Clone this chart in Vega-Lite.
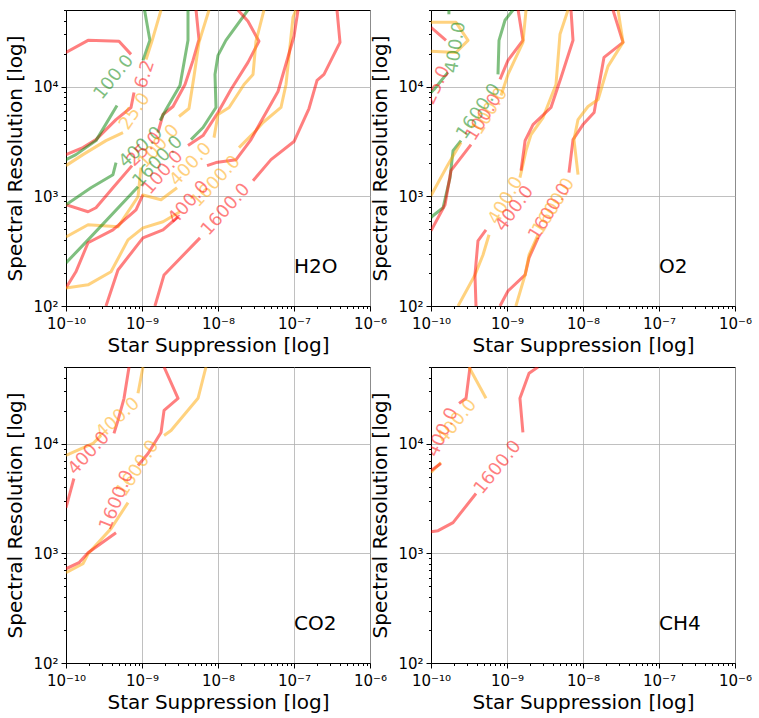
{
  "$schema": "https://vega.github.io/schema/vega-lite/v6.json",
  "background": "white",
  "padding": {"left": 5, "top": 2, "right": 5, "bottom": 5},
  "config": {
    "font": "DejaVu Sans",
    "view": {"stroke": "black", "strokeWidth": 1},
    "axis": {"labelFont": "DejaVu Sans", "labelFontSize": 15, "labelColor": "black", "titleFont": "DejaVu Sans", "titleFontSize": 20, "titleFontWeight": "normal", "titleColor": "black", "tickColor": "black", "tickWidth": 1, "domainColor": "black", "gridColor": "#b0b0b0", "gridWidth": 0.8, "labelFlush": false, "labelOverlap": false, "labelPadding": 3, "grid": true},
    "axisX": {"titlePadding": 4, "labelPadding": 5},
    "axisY": {"titlePadding": 7}
  },
  "datasets": {
    "h2o_lines": [
      {"id":"r6a","c":"red","x":1e-10,"y":20500},{"id":"r6a","c":"red","x":1.95e-10,"y":26450},{"id":"r6a","c":"red","x":4.98e-10,"y":25900},{"id":"r6a","c":"red","x":7.17e-10,"y":19700},
      {"id":"r6b","c":"red","x":7.85e-10,"y":8850},{"id":"r6b","c":"red","x":7.17e-10,"y":6460},{"id":"r6b","c":"red","x":4.55e-10,"y":5010},{"id":"r6b","c":"red","x":2.48e-10,"y":3290},{"id":"r6b","c":"red","x":1.67e-10,"y":2780},{"id":"r6b","c":"red","x":1e-10,"y":2400},
      {"id":"g100a","c":"green","x":1.08e-9,"y":50000},{"id":"g100a","c":"green","x":1.27e-9,"y":26450},{"id":"g100a","c":"green","x":1.03e-9,"y":17360},
      {"id":"g100b","c":"green","x":4.69e-10,"y":6730},{"id":"g100b","c":"green","x":2.48e-10,"y":3220},{"id":"g100b","c":"green","x":1.35e-10,"y":2400},{"id":"g100b","c":"green","x":1e-10,"y":2160},
      {"id":"o25a","c":"orange","x":1.78e-9,"y":50000},{"id":"o25a","c":"orange","x":1.35e-9,"y":25900},{"id":"o25a","c":"orange","x":1.13e-9,"y":17700},
      {"id":"o25b","c":"orange","x":5.62e-10,"y":3810},{"id":"o25b","c":"orange","x":3.36e-10,"y":3220},{"id":"o25b","c":"orange","x":1.67e-10,"y":2400},{"id":"o25b","c":"orange","x":1e-10,"y":1905},
      {"id":"r25a","c":"red","x":1e-10,"y":838},{"id":"r25a","c":"red","x":1.95e-10,"y":723},{"id":"r25a","c":"red","x":2.48e-10,"y":787},{"id":"r25a","c":"red","x":4.15e-10,"y":1198},{"id":"r25a","c":"red","x":7.39e-10,"y":1905},
      {"id":"r25b","c":"red","x":1.62e-9,"y":3810},{"id":"r25b","c":"red","x":1.89e-9,"y":5570},{"id":"r25b","c":"red","x":2.56e-9,"y":6590},{"id":"r25b","c":"red","x":3.68e-9,"y":10470},{"id":"r25b","c":"red","x":4.69e-9,"y":17360},{"id":"r25b","c":"red","x":5.62e-9,"y":27000},{"id":"r25b","c":"red","x":5.14e-9,"y":50000},
      {"id":"g400a","c":"green","x":1e-10,"y":838},{"id":"g400a","c":"green","x":2.13e-10,"y":1198},{"id":"g400a","c":"green","x":4.15e-10,"y":1575},{"id":"g400a","c":"green","x":4.55e-10,"y":2030},
      {"id":"g400b","c":"green","x":1.73e-9,"y":4910},{"id":"g400b","c":"green","x":2.07e-9,"y":6190},{"id":"g400b","c":"green","x":3.16e-9,"y":10260},{"id":"g400b","c":"green","x":4.03e-9,"y":26450},{"id":"g400b","c":"green","x":4.03e-9,"y":50000},
      {"id":"o100a","c":"orange","x":1e-10,"y":427},{"id":"o100a","c":"orange","x":1.95e-10,"y":550},{"id":"o100a","c":"orange","x":4.83e-10,"y":527},{"id":"o100a","c":"orange","x":8.86e-10,"y":992},{"id":"o100a","c":"orange","x":9.7e-10,"y":1826},
      {"id":"o100b","c":"orange","x":3.07e-9,"y":5340},{"id":"o100b","c":"orange","x":4.15e-9,"y":6320},{"id":"o100b","c":"orange","x":4.83e-9,"y":12400},{"id":"o100b","c":"orange","x":5.62e-9,"y":25350},{"id":"o100b","c":"orange","x":7.61e-9,"y":50000},
      {"id":"g1600a","c":"green","x":1e-10,"y":247},{"id":"g1600a","c":"green","x":1.95e-10,"y":401},{"id":"g1600a","c":"green","x":8.86e-10,"y":1224},
      {"id":"g1600b","c":"green","x":4.41e-9,"y":3290},{"id":"g1600b","c":"green","x":6.35e-9,"y":4240},{"id":"g1600b","c":"green","x":9.41e-9,"y":6460},{"id":"g1600b","c":"green","x":9.13e-9,"y":12930},{"id":"g1600b","c":"green","x":1e-8,"y":19300},{"id":"g1600b","c":"green","x":1.27e-8,"y":26450},{"id":"g1600b","c":"green","x":2.48e-8,"y":50000},
      {"id":"r100a","c":"red","x":1e-10,"y":146},{"id":"r100a","c":"red","x":1.35e-10,"y":205},{"id":"r100a","c":"red","x":1.95e-10,"y":377},{"id":"r100a","c":"red","x":4.15e-10,"y":495},{"id":"r100a","c":"red","x":8.34e-10,"y":754},{"id":"r100a","c":"red","x":1.03e-9,"y":1034},
      {"id":"r100b","c":"red","x":4.03e-9,"y":2900},{"id":"r100b","c":"red","x":6.35e-9,"y":3580},{"id":"r100b","c":"red","x":1e-8,"y":5810},{"id":"r100b","c":"red","x":1.48e-8,"y":9430},{"id":"r100b","c":"red","x":2.48e-8,"y":16640},{"id":"r100b","c":"red","x":3.46e-8,"y":25900},{"id":"r100b","c":"red","x":2.48e-8,"y":39450},{"id":"r100b","c":"red","x":1.83e-8,"y":50000},
      {"id":"o1600a","c":"orange","x":1e-10,"y":146},{"id":"o1600a","c":"orange","x":1.95e-10,"y":156},{"id":"o1600a","c":"orange","x":3.91e-10,"y":205},{"id":"o1600a","c":"orange","x":6.54e-10,"y":401},{"id":"o1600a","c":"orange","x":1.03e-9,"y":516},{"id":"o1600a","c":"orange","x":1.89e-9,"y":586},{"id":"o1600a","c":"orange","x":3.16e-9,"y":723},
      {"id":"o1600b","c":"orange","x":1.89e-8,"y":2780},{"id":"o1600b","c":"orange","x":3.16e-8,"y":3980},{"id":"o1600b","c":"orange","x":3.91e-8,"y":4710},{"id":"o1600b","c":"orange","x":6.74e-8,"y":6460},{"id":"o1600b","c":"orange","x":7.85e-8,"y":10470},{"id":"o1600b","c":"orange","x":9.7e-8,"y":42900},{"id":"o1600b","c":"orange","x":1.06e-7,"y":50000},
      {"id":"o400a","c":"orange","x":1e-9,"y":1034},{"id":"o400a","c":"orange","x":1.78e-9,"y":931},{"id":"o400a","c":"orange","x":2.89e-9,"y":1198},
      {"id":"o400b","c":"orange","x":8.86e-9,"y":3430},{"id":"o400b","c":"orange","x":1e-8,"y":5570},{"id":"o400b","c":"orange","x":1.4e-8,"y":6460},{"id":"o400b","c":"orange","x":2.2e-8,"y":10470},{"id":"o400b","c":"orange","x":2.89e-8,"y":12930},{"id":"o400b","c":"orange","x":3.16e-8,"y":25900},{"id":"o400b","c":"orange","x":4.03e-8,"y":50000},
      {"id":"r400a","c":"red","x":3.36e-10,"y":100},{"id":"r400a","c":"red","x":4.83e-10,"y":213},{"id":"r400a","c":"red","x":1.03e-9,"y":418},{"id":"r400a","c":"red","x":1.89e-9,"y":495},{"id":"r400a","c":"red","x":2.98e-9,"y":651},
      {"id":"r400b","c":"red","x":7.17e-9,"y":1905},{"id":"r400b","c":"red","x":9.41e-9,"y":2030},{"id":"r400b","c":"red","x":1.73e-8,"y":2160},{"id":"r400b","c":"red","x":2.72e-8,"y":3290},{"id":"r400b","c":"red","x":3.68e-8,"y":4810},{"id":"r400b","c":"red","x":6.16e-8,"y":9040},{"id":"r400b","c":"red","x":1e-7,"y":28800},{"id":"r400b","c":"red","x":1.13e-7,"y":50000},
      {"id":"r1600a","c":"red","x":1.48e-9,"y":100},{"id":"r1600a","c":"red","x":1.95e-9,"y":192},{"id":"r1600a","c":"red","x":5.8e-9,"y":418},
      {"id":"r1600b","c":"red","x":2.89e-8,"y":1389},{"id":"r1600b","c":"red","x":4.98e-8,"y":2160},{"id":"r1600b","c":"red","x":1e-7,"y":3160},{"id":"r1600b","c":"red","x":1.575e-7,"y":6320},{"id":"r1600b","c":"red","x":2.01e-7,"y":11400},{"id":"r1600b","c":"red","x":2.48e-7,"y":12930},{"id":"r1600b","c":"red","x":4.03e-7,"y":25350},{"id":"r1600b","c":"red","x":3.68e-7,"y":50000}
    ],
    "h2o_labels": [
      {"c":"green","t":"100.0","x":4.28e-10,"y":12140,"a":-51},
      {"c":"red","t":"6.2","x":1.1e-9,"y":12930,"a":-72},
      {"c":"orange","t":"25.0","x":8.09e-10,"y":5930,"a":-56},
      {"c":"green","t":"400.0","x":9.7e-10,"y":2780,"a":-42},
      {"c":"red","t":"25.0","x":1.08e-9,"y":2670,"a":-45},
      {"c":"orange","t":"100.0","x":1.67e-9,"y":2840,"a":-48},
      {"c":"green","t":"1600.0","x":1.62e-9,"y":2070,"a":-46},
      {"c":"red","t":"100.0","x":1.89e-9,"y":1643,"a":-49},
      {"c":"orange","t":"400.0","x":4.41e-9,"y":1945,"a":-47},
      {"c":"orange","t":"1600.0","x":9.41e-9,"y":1360,"a":-47},
      {"c":"red","t":"400.0","x":4.15e-9,"y":874,"a":-48},
      {"c":"red","t":"1600.0","x":1.27e-8,"y":754,"a":-48}
    ],
    "o2_lines": [
      {"id":"g400a","c":"green","x":1.72e-10,"y":50000},{"id":"g400a","c":"green","x":1.72e-10,"y":45700},
      {"id":"g400b","c":"green","x":1.67e-10,"y":13490},{"id":"g400b","c":"green","x":1.095e-10,"y":9430},{"id":"g400b","c":"green","x":1e-10,"y":8850},
      {"id":"o25","c":"orange","x":1e-10,"y":38600},{"id":"o25","c":"orange","x":2.13e-10,"y":38600},{"id":"o25","c":"orange","x":3.07e-10,"y":26450},{"id":"o25","c":"orange","x":2.13e-10,"y":20500},{"id":"o25","c":"orange","x":1e-10,"y":21000},
      {"id":"r25","c":"red","x":1e-10,"y":34800},{"id":"r25","c":"red","x":1.575e-10,"y":26450},
      {"id":"g1600a","c":"green","x":1.2e-9,"y":50000},{"id":"g1600a","c":"green","x":9.41e-10,"y":40300},{"id":"g1600a","c":"green","x":7.85e-10,"y":26450},{"id":"g1600a","c":"green","x":7.61e-10,"y":12930},
      {"id":"g1600b","c":"green","x":2.48e-10,"y":3220},{"id":"g1600b","c":"green","x":1.95e-10,"y":2610},{"id":"g1600b","c":"green","x":1.78e-10,"y":1480},{"id":"g1600b","c":"green","x":1.44e-10,"y":787},{"id":"g1600b","c":"green","x":1.06e-10,"y":665},{"id":"g1600b","c":"green","x":1e-10,"y":637},
      {"id":"r100a","c":"red","x":1.4e-9,"y":50000},{"id":"r100a","c":"red","x":1.62e-9,"y":26450},{"id":"r100a","c":"red","x":1.03e-9,"y":17360},{"id":"r100a","c":"red","x":8.09e-10,"y":11640},
      {"id":"o100a","c":"orange","x":1.78e-9,"y":50000},{"id":"o100a","c":"orange","x":1.62e-9,"y":25350},{"id":"o100a","c":"orange","x":1.03e-9,"y":12930},{"id":"o100a","c":"orange","x":8.34e-10,"y":8310},
      {"id":"r100b","c":"red","x":3.36e-10,"y":2960},{"id":"r100b","c":"red","x":1.83e-10,"y":1714},{"id":"r100b","c":"red","x":1.53e-10,"y":838},{"id":"r100b","c":"red","x":1e-10,"y":485},
      {"id":"o100b","c":"orange","x":2.48e-10,"y":3090},{"id":"o100b","c":"orange","x":1.67e-10,"y":1945},{"id":"o100b","c":"orange","x":1e-10,"y":1013},
      {"id":"o400a","c":"orange","x":6.35e-9,"y":50000},{"id":"o400a","c":"orange","x":4.98e-9,"y":30000},{"id":"o400a","c":"orange","x":4.41e-9,"y":10470},{"id":"o400a","c":"orange","x":2.98e-9,"y":5230},{"id":"o400a","c":"orange","x":2.07e-9,"y":3660},{"id":"o400a","c":"orange","x":1.78e-9,"y":2610},{"id":"o400a","c":"orange","x":1.48e-9,"y":1480},
      {"id":"r400a","c":"red","x":6.95e-9,"y":50000},{"id":"r400a","c":"red","x":7.39e-9,"y":26450},{"id":"r400a","c":"red","x":5.14e-9,"y":12140},{"id":"r400a","c":"red","x":3.79e-9,"y":6460},{"id":"r400a","c":"red","x":2.2e-9,"y":4510},{"id":"r400a","c":"red","x":1.73e-9,"y":3220},{"id":"r400a","c":"red","x":1.53e-9,"y":1714},
      {"id":"o400b","c":"orange","x":5.8e-10,"y":446},{"id":"o400b","c":"orange","x":4.83e-10,"y":292},{"id":"o400b","c":"orange","x":3.79e-10,"y":192},{"id":"o400b","c":"orange","x":2.27e-10,"y":100},
      {"id":"r400b","c":"red","x":5.29e-10,"y":495},{"id":"r400b","c":"red","x":4.15e-10,"y":393},{"id":"r400b","c":"red","x":3.79e-10,"y":192},{"id":"r400b","c":"red","x":3.91e-10,"y":100},
      {"id":"r1600a","c":"red","x":2.48e-8,"y":50000},{"id":"r1600a","c":"red","x":3.36e-8,"y":25350},{"id":"r1600a","c":"red","x":1.89e-8,"y":18500},{"id":"r1600a","c":"red","x":1.4e-8,"y":5810},{"id":"r1600a","c":"red","x":1e-8,"y":4510},{"id":"r1600a","c":"red","x":7.39e-9,"y":3290},{"id":"r1600a","c":"red","x":6.54e-9,"y":1643},
      {"id":"o1600a","c":"orange","x":2.89e-8,"y":50000},{"id":"o1600a","c":"orange","x":3.36e-8,"y":25350},{"id":"o1600a","c":"orange","x":2.13e-8,"y":15300},{"id":"o1600a","c":"orange","x":1.58e-8,"y":7640},{"id":"o1600a","c":"orange","x":1.164e-8,"y":6590},{"id":"o1600a","c":"orange","x":8.6e-9,"y":5010},{"id":"o1600a","c":"orange","x":7.61e-9,"y":3290},{"id":"o1600a","c":"orange","x":8.6e-9,"y":1575},
      {"id":"r1600b","c":"red","x":2.56e-9,"y":418},{"id":"r1600b","c":"red","x":1.95e-9,"y":275},{"id":"r1600b","c":"red","x":1.73e-9,"y":192},{"id":"r1600b","c":"red","x":1.03e-9,"y":137},{"id":"r1600b","c":"red","x":8.09e-10,"y":100},
      {"id":"o1600b","c":"orange","x":2.56e-9,"y":446},{"id":"o1600b","c":"orange","x":1.95e-9,"y":292},{"id":"o1600b","c":"orange","x":1.73e-9,"y":192},{"id":"o1600b","c":"orange","x":1.31e-9,"y":100}
    ],
    "o2_labels": [
      {"c":"green","t":"400.0","x":2.13e-10,"y":22800,"a":-81},
      {"c":"red","t":"25.0","x":1.2e-10,"y":10260,"a":-65},
      {"c":"green","t":"1600.0","x":4.28e-10,"y":5930,"a":-55},
      {"c":"red","t":"100.0","x":4.98e-10,"y":5230,"a":-58},
      {"c":"orange","t":"100.0","x":5.97e-10,"y":5930,"a":-58},
      {"c":"orange","t":"400.0","x":9.7e-10,"y":912,"a":-60},
      {"c":"red","t":"400.0","x":1.27e-9,"y":770,"a":-54},
      {"c":"red","t":"1600.0","x":3.68e-9,"y":723,"a":-58},
      {"c":"orange","t":"1600.0","x":4.15e-9,"y":804,"a":-58}
    ],
    "co2_lines": [
      {"id":"o400a","c":"orange","x":1e-10,"y":7800},{"id":"o400a","c":"orange","x":2.27e-10,"y":10040},{"id":"o400a","c":"orange","x":2.89e-10,"y":11890},
      {"id":"o400b","c":"orange","x":8.86e-10,"y":28800},{"id":"o400b","c":"orange","x":1.03e-9,"y":50000},
      {"id":"r400a","c":"red","x":1e-10,"y":2610},{"id":"r400a","c":"red","x":1.27e-10,"y":4810},
      {"id":"r400b","c":"red","x":4.28e-10,"y":12400},{"id":"r400b","c":"red","x":4.83e-10,"y":16300},{"id":"r400b","c":"red","x":5.8e-10,"y":25900},{"id":"r400b","c":"red","x":6.75e-10,"y":50000},
      {"id":"o1600a","c":"orange","x":1e-10,"y":665},{"id":"o1600a","c":"orange","x":1.67e-10,"y":804},{"id":"o1600a","c":"orange","x":1.95e-10,"y":992},{"id":"o1600a","c":"orange","x":3.91e-10,"y":1680},{"id":"o1600a","c":"orange","x":6.54e-10,"y":2900},
      {"id":"o1600b","c":"orange","x":1.95e-9,"y":11890},{"id":"o1600b","c":"orange","x":2.41e-9,"y":13200},{"id":"o1600b","c":"orange","x":5.46e-9,"y":25900},{"id":"o1600b","c":"orange","x":6.95e-9,"y":50000},
      {"id":"r1600a","c":"red","x":1e-10,"y":723},{"id":"r1600a","c":"red","x":1.48e-10,"y":821},{"id":"r1600a","c":"red","x":1.95e-10,"y":1013},{"id":"r1600a","c":"red","x":4.55e-10,"y":1543},
      {"id":"r1600b","c":"red","x":8.86e-10,"y":6320},{"id":"r1600b","c":"red","x":1.2e-9,"y":8140},{"id":"r1600b","c":"red","x":1.78e-9,"y":12660},{"id":"r1600b","c":"red","x":1.95e-9,"y":20100},{"id":"r1600b","c":"red","x":2.98e-9,"y":25900},{"id":"r1600b","c":"red","x":1.95e-9,"y":50000}
    ],
    "co2_labels": [
      {"c":"orange","t":"400.0","x":4.83e-10,"y":17000,"a":-42},
      {"c":"red","t":"400.0","x":2.01e-10,"y":8140,"a":-47},
      {"c":"orange","t":"1600.0","x":8.86e-10,"y":5930,"a":-57},
      {"c":"red","t":"1600.0","x":4.69e-10,"y":3030,"a":-68}
    ],
    "ch4_lines": [
      {"id":"o400a","c":"orange","x":1e-10,"y":5450},{"id":"o400a","c":"orange","x":1.35e-10,"y":6730},
      {"id":"r400a","c":"red","x":1e-10,"y":5690},{"id":"r400a","c":"red","x":1.35e-10,"y":6590},
      {"id":"r400b","c":"red","x":2.34e-10,"y":23300},{"id":"r400b","c":"red","x":2.89e-10,"y":25900},{"id":"r400b","c":"red","x":3.26e-10,"y":50000},
      {"id":"o400b","c":"orange","x":3.16e-10,"y":50000},{"id":"o400b","c":"orange","x":5.29e-10,"y":25900},
      {"id":"r1600a","c":"red","x":1e-10,"y":1575},{"id":"r1600a","c":"red","x":1.24e-10,"y":1610},{"id":"r1600a","c":"red","x":1.95e-10,"y":1905},{"id":"r1600a","c":"red","x":3.91e-10,"y":3510},
      {"id":"r1600b","c":"red","x":1.62e-9,"y":12660},{"id":"r1600b","c":"red","x":1.48e-9,"y":25900},{"id":"r1600b","c":"red","x":1.95e-9,"y":43800},{"id":"r1600b","c":"red","x":2.56e-9,"y":50000}
    ],
    "ch4_labels": [
      {"c":"red","t":"400.0","x":1.44e-10,"y":12660,"a":-65},
      {"c":"orange","t":"400.0","x":2.2e-10,"y":15960,"a":-51},
      {"c":"red","t":"1600.0","x":7.61e-10,"y":6060,"a":-51}
    ]
  },
  "columns": 2,
  "spacing": 61,
  "bounds": "flush",
  "concat": [
    {
      "width": 304, "height": 296,
      "encoding": {
        "x": {"field": "x", "type": "quantitative", "scale": {"type": "log", "domain": [1e-10, 1e-6], "nice": false}, "axis": {"title": "Star Suppression [log]", "values": [1e-10,2e-10,3e-10,4e-10,5e-10,6e-10,7e-10,8e-10,9e-10,1e-9,2e-9,3e-9,4e-9,5e-9,6e-9,7e-9,8e-9,9e-9,1e-8,2e-8,3e-8,4e-8,5e-8,6e-8,7e-8,8e-8,9e-8,1e-7,2e-7,3e-7,4e-7,5e-7,6e-7,7e-7,8e-7,9e-7,1e-6], "labelExpr": "abs(log(datum.value)/LN10 - round(log(datum.value)/LN10)) > 0.001 ? '' : (round(log(datum.value)/LN10) == -10 ? '10⁻¹⁰' : round(log(datum.value)/LN10) == -9 ? '10⁻⁹' : round(log(datum.value)/LN10) == -8 ? '10⁻⁸' : round(log(datum.value)/LN10) == -7 ? '10⁻⁷' : '10⁻⁶')", "tickSize": {"condition": {"test": "abs(log(datum.value)/LN10 - round(log(datum.value)/LN10)) < 0.001", "value": 5}, "value": 2.5}, "gridOpacity": {"condition": {"test": "abs(log(datum.value)/LN10 - round(log(datum.value)/LN10)) < 0.001", "value": 1}, "value": 0}}},
        "y": {"field": "y", "type": "quantitative", "scale": {"type": "log", "domain": [100, 50000], "nice": false}, "axis": {"title": "Spectral Resolution [log]", "values": [100,200,300,400,500,600,700,800,900,1000,2000,3000,4000,5000,6000,7000,8000,9000,10000,20000,30000,40000,50000], "labelExpr": "abs(log(datum.value)/LN10 - round(log(datum.value)/LN10)) > 0.001 ? '' : (round(log(datum.value)/LN10) == 2 ? '10²' : round(log(datum.value)/LN10) == 3 ? '10³' : '10⁴')", "tickSize": {"condition": {"test": "abs(log(datum.value)/LN10 - round(log(datum.value)/LN10)) < 0.001", "value": 5}, "value": 2.5}, "gridOpacity": {"condition": {"test": "abs(log(datum.value)/LN10 - round(log(datum.value)/LN10)) < 0.001", "value": 1}, "value": 0}}}
      },
      "layer": [
        {"data": {"name": "h2o_lines"}, "transform": [{"window": [{"op": "row_number", "as": "i"}]}], "mark": {"type": "line", "strokeWidth": 3, "opacity": 0.5, "clip": true, "strokeJoin": "round"}, "encoding": {"color": {"field": "c", "type": "nominal", "scale": {"domain": ["red","orange","green"], "range": ["#ff0000","#ffa500","#008000"]}, "legend": null}, "detail": {"field": "id"}, "order": {"field": "i", "type": "quantitative"}}},
        {"data": {"name": "h2o_labels"}, "mark": {"type": "text", "fontSize": 18, "opacity": 0.5, "clip": true, "align": "center", "baseline": "middle"}, "encoding": {"text": {"field": "t"}, "angle": {"field": "a", "type": "quantitative", "scale": null}, "color": {"field": "c", "type": "nominal", "scale": {"domain": ["red","orange","green"], "range": ["#ff0000","#ffa500","#008000"]}, "legend": null}}},
        {"data": {"values": [{"x": 1e-7, "y": 200, "t": "H2O"}]}, "mark": {"type": "text", "fontSize": 20, "align": "left", "baseline": "alphabetic", "color": "black"}, "encoding": {"text": {"field": "t"}}}
      ]
    },
    {
      "width": 304, "height": 296,
      "encoding": {
        "x": {"field": "x", "type": "quantitative", "scale": {"type": "log", "domain": [1e-10, 1e-6], "nice": false}, "axis": {"title": "Star Suppression [log]", "values": [1e-10,2e-10,3e-10,4e-10,5e-10,6e-10,7e-10,8e-10,9e-10,1e-9,2e-9,3e-9,4e-9,5e-9,6e-9,7e-9,8e-9,9e-9,1e-8,2e-8,3e-8,4e-8,5e-8,6e-8,7e-8,8e-8,9e-8,1e-7,2e-7,3e-7,4e-7,5e-7,6e-7,7e-7,8e-7,9e-7,1e-6], "labelExpr": "abs(log(datum.value)/LN10 - round(log(datum.value)/LN10)) > 0.001 ? '' : (round(log(datum.value)/LN10) == -10 ? '10⁻¹⁰' : round(log(datum.value)/LN10) == -9 ? '10⁻⁹' : round(log(datum.value)/LN10) == -8 ? '10⁻⁸' : round(log(datum.value)/LN10) == -7 ? '10⁻⁷' : '10⁻⁶')", "tickSize": {"condition": {"test": "abs(log(datum.value)/LN10 - round(log(datum.value)/LN10)) < 0.001", "value": 5}, "value": 2.5}, "gridOpacity": {"condition": {"test": "abs(log(datum.value)/LN10 - round(log(datum.value)/LN10)) < 0.001", "value": 1}, "value": 0}}},
        "y": {"field": "y", "type": "quantitative", "scale": {"type": "log", "domain": [100, 50000], "nice": false}, "axis": {"title": "Spectral Resolution [log]", "values": [100,200,300,400,500,600,700,800,900,1000,2000,3000,4000,5000,6000,7000,8000,9000,10000,20000,30000,40000,50000], "labelExpr": "abs(log(datum.value)/LN10 - round(log(datum.value)/LN10)) > 0.001 ? '' : (round(log(datum.value)/LN10) == 2 ? '10²' : round(log(datum.value)/LN10) == 3 ? '10³' : '10⁴')", "tickSize": {"condition": {"test": "abs(log(datum.value)/LN10 - round(log(datum.value)/LN10)) < 0.001", "value": 5}, "value": 2.5}, "gridOpacity": {"condition": {"test": "abs(log(datum.value)/LN10 - round(log(datum.value)/LN10)) < 0.001", "value": 1}, "value": 0}}}
      },
      "layer": [
        {"data": {"name": "o2_lines"}, "transform": [{"window": [{"op": "row_number", "as": "i"}]}], "mark": {"type": "line", "strokeWidth": 3, "opacity": 0.5, "clip": true, "strokeJoin": "round"}, "encoding": {"color": {"field": "c", "type": "nominal", "scale": {"domain": ["red","orange","green"], "range": ["#ff0000","#ffa500","#008000"]}, "legend": null}, "detail": {"field": "id"}, "order": {"field": "i", "type": "quantitative"}}},
        {"data": {"name": "o2_labels"}, "mark": {"type": "text", "fontSize": 18, "opacity": 0.5, "clip": true, "align": "center", "baseline": "middle"}, "encoding": {"text": {"field": "t"}, "angle": {"field": "a", "type": "quantitative", "scale": null}, "color": {"field": "c", "type": "nominal", "scale": {"domain": ["red","orange","green"], "range": ["#ff0000","#ffa500","#008000"]}, "legend": null}}},
        {"data": {"values": [{"x": 1e-7, "y": 200, "t": "O2"}]}, "mark": {"type": "text", "fontSize": 20, "align": "left", "baseline": "alphabetic", "color": "black"}, "encoding": {"text": {"field": "t"}}}
      ]
    },
    {
      "width": 304, "height": 296,
      "encoding": {
        "x": {"field": "x", "type": "quantitative", "scale": {"type": "log", "domain": [1e-10, 1e-6], "nice": false}, "axis": {"title": "Star Suppression [log]", "values": [1e-10,2e-10,3e-10,4e-10,5e-10,6e-10,7e-10,8e-10,9e-10,1e-9,2e-9,3e-9,4e-9,5e-9,6e-9,7e-9,8e-9,9e-9,1e-8,2e-8,3e-8,4e-8,5e-8,6e-8,7e-8,8e-8,9e-8,1e-7,2e-7,3e-7,4e-7,5e-7,6e-7,7e-7,8e-7,9e-7,1e-6], "labelExpr": "abs(log(datum.value)/LN10 - round(log(datum.value)/LN10)) > 0.001 ? '' : (round(log(datum.value)/LN10) == -10 ? '10⁻¹⁰' : round(log(datum.value)/LN10) == -9 ? '10⁻⁹' : round(log(datum.value)/LN10) == -8 ? '10⁻⁸' : round(log(datum.value)/LN10) == -7 ? '10⁻⁷' : '10⁻⁶')", "tickSize": {"condition": {"test": "abs(log(datum.value)/LN10 - round(log(datum.value)/LN10)) < 0.001", "value": 5}, "value": 2.5}, "gridOpacity": {"condition": {"test": "abs(log(datum.value)/LN10 - round(log(datum.value)/LN10)) < 0.001", "value": 1}, "value": 0}}},
        "y": {"field": "y", "type": "quantitative", "scale": {"type": "log", "domain": [100, 50000], "nice": false}, "axis": {"title": "Spectral Resolution [log]", "values": [100,200,300,400,500,600,700,800,900,1000,2000,3000,4000,5000,6000,7000,8000,9000,10000,20000,30000,40000,50000], "labelExpr": "abs(log(datum.value)/LN10 - round(log(datum.value)/LN10)) > 0.001 ? '' : (round(log(datum.value)/LN10) == 2 ? '10²' : round(log(datum.value)/LN10) == 3 ? '10³' : '10⁴')", "tickSize": {"condition": {"test": "abs(log(datum.value)/LN10 - round(log(datum.value)/LN10)) < 0.001", "value": 5}, "value": 2.5}, "gridOpacity": {"condition": {"test": "abs(log(datum.value)/LN10 - round(log(datum.value)/LN10)) < 0.001", "value": 1}, "value": 0}}}
      },
      "layer": [
        {"data": {"name": "co2_lines"}, "transform": [{"window": [{"op": "row_number", "as": "i"}]}], "mark": {"type": "line", "strokeWidth": 3, "opacity": 0.5, "clip": true, "strokeJoin": "round"}, "encoding": {"color": {"field": "c", "type": "nominal", "scale": {"domain": ["red","orange","green"], "range": ["#ff0000","#ffa500","#008000"]}, "legend": null}, "detail": {"field": "id"}, "order": {"field": "i", "type": "quantitative"}}},
        {"data": {"name": "co2_labels"}, "mark": {"type": "text", "fontSize": 18, "opacity": 0.5, "clip": true, "align": "center", "baseline": "middle"}, "encoding": {"text": {"field": "t"}, "angle": {"field": "a", "type": "quantitative", "scale": null}, "color": {"field": "c", "type": "nominal", "scale": {"domain": ["red","orange","green"], "range": ["#ff0000","#ffa500","#008000"]}, "legend": null}}},
        {"data": {"values": [{"x": 1e-7, "y": 200, "t": "CO2"}]}, "mark": {"type": "text", "fontSize": 20, "align": "left", "baseline": "alphabetic", "color": "black"}, "encoding": {"text": {"field": "t"}}}
      ]
    },
    {
      "width": 304, "height": 296,
      "encoding": {
        "x": {"field": "x", "type": "quantitative", "scale": {"type": "log", "domain": [1e-10, 1e-6], "nice": false}, "axis": {"title": "Star Suppression [log]", "values": [1e-10,2e-10,3e-10,4e-10,5e-10,6e-10,7e-10,8e-10,9e-10,1e-9,2e-9,3e-9,4e-9,5e-9,6e-9,7e-9,8e-9,9e-9,1e-8,2e-8,3e-8,4e-8,5e-8,6e-8,7e-8,8e-8,9e-8,1e-7,2e-7,3e-7,4e-7,5e-7,6e-7,7e-7,8e-7,9e-7,1e-6], "labelExpr": "abs(log(datum.value)/LN10 - round(log(datum.value)/LN10)) > 0.001 ? '' : (round(log(datum.value)/LN10) == -10 ? '10⁻¹⁰' : round(log(datum.value)/LN10) == -9 ? '10⁻⁹' : round(log(datum.value)/LN10) == -8 ? '10⁻⁸' : round(log(datum.value)/LN10) == -7 ? '10⁻⁷' : '10⁻⁶')", "tickSize": {"condition": {"test": "abs(log(datum.value)/LN10 - round(log(datum.value)/LN10)) < 0.001", "value": 5}, "value": 2.5}, "gridOpacity": {"condition": {"test": "abs(log(datum.value)/LN10 - round(log(datum.value)/LN10)) < 0.001", "value": 1}, "value": 0}}},
        "y": {"field": "y", "type": "quantitative", "scale": {"type": "log", "domain": [100, 50000], "nice": false}, "axis": {"title": "Spectral Resolution [log]", "values": [100,200,300,400,500,600,700,800,900,1000,2000,3000,4000,5000,6000,7000,8000,9000,10000,20000,30000,40000,50000], "labelExpr": "abs(log(datum.value)/LN10 - round(log(datum.value)/LN10)) > 0.001 ? '' : (round(log(datum.value)/LN10) == 2 ? '10²' : round(log(datum.value)/LN10) == 3 ? '10³' : '10⁴')", "tickSize": {"condition": {"test": "abs(log(datum.value)/LN10 - round(log(datum.value)/LN10)) < 0.001", "value": 5}, "value": 2.5}, "gridOpacity": {"condition": {"test": "abs(log(datum.value)/LN10 - round(log(datum.value)/LN10)) < 0.001", "value": 1}, "value": 0}}}
      },
      "layer": [
        {"data": {"name": "ch4_lines"}, "transform": [{"window": [{"op": "row_number", "as": "i"}]}], "mark": {"type": "line", "strokeWidth": 3, "opacity": 0.5, "clip": true, "strokeJoin": "round"}, "encoding": {"color": {"field": "c", "type": "nominal", "scale": {"domain": ["red","orange","green"], "range": ["#ff0000","#ffa500","#008000"]}, "legend": null}, "detail": {"field": "id"}, "order": {"field": "i", "type": "quantitative"}}},
        {"data": {"name": "ch4_labels"}, "mark": {"type": "text", "fontSize": 18, "opacity": 0.5, "clip": true, "align": "center", "baseline": "middle"}, "encoding": {"text": {"field": "t"}, "angle": {"field": "a", "type": "quantitative", "scale": null}, "color": {"field": "c", "type": "nominal", "scale": {"domain": ["red","orange","green"], "range": ["#ff0000","#ffa500","#008000"]}, "legend": null}}},
        {"data": {"values": [{"x": 1e-7, "y": 200, "t": "CH4"}]}, "mark": {"type": "text", "fontSize": 20, "align": "left", "baseline": "alphabetic", "color": "black"}, "encoding": {"text": {"field": "t"}}}
      ]
    }
  ]
}
